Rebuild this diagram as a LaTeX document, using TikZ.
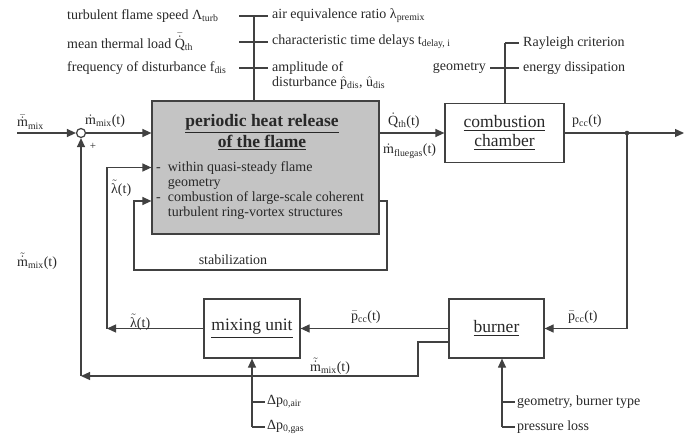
\documentclass[tikz,border=0pt]{standalone}
\usepackage{fontspec}
\setmainfont{Liberation Serif}
\usepackage{amsmath}
\usetikzlibrary{arrows.meta}
\definecolor{ln}{RGB}{65,65,65}
\definecolor{flamefill}{RGB}{196,196,196}
\definecolor{txt}{RGB}{40,40,40}
\newcommand{\mbarx}{$\bar{\dot{\text{m}}}$}
\newcommand{\mdotx}{$\dot{\text{m}}$}
\newcommand{\mtilx}{$\tilde{\dot{\text{m}}}$}
\newcommand{\lamtil}{$\tilde{\text{λ}}$}
\newcommand{\pbarx}{$\bar{\text{p}}$}
\begin{document}
\begin{tikzpicture}[x=1pt,y=-1pt,
  line/.style={draw=ln, line width=1.2pt},
  arr/.style={line, -{Triangle[length=9pt,width=8pt]}},
  block/.style={draw=ln, line width=1.2pt, rectangle, inner sep=0pt, text=txt,
    font=\fontsize{17.5}{19}\selectfont, align=center},
  lbl/.style={inner sep=0pt, text=txt, font=\fontsize{14}{15}\selectfont},
]
\useasboundingbox (0,0) rectangle (686,436);

% blocks
\node[block, fill=flamefill, minimum width=227pt, minimum height=133pt] (flame) at (265.5,167.5) {};
\node[block, draw=none, font=\fontsize{17.5}{19}\bfseries] (ftitle) at (262,132.5)
  {\underline{periodic heat release}\\\underline{of the flame}};
\node[lbl, anchor=west] (fitems) at (156,190.5)
  {\begin{tabular}{@{}l@{\hspace{7pt}}l@{}}
   -& within quasi-steady flame\\
    & geometry\\
   -& combustion of large-scale coherent\\
    & turbulent ring-vortex structures
   \end{tabular}};
\node[block, minimum width=119pt, minimum height=59pt] (cc) at (504.5,133)
  {\underline{combustion}\\\underline{chamber}};
\node[block, minimum width=96pt, minimum height=59pt] (mix) at (252,328.5)
  {\underline{mixing unit}};
\node[block, minimum width=95pt, minimum height=59pt] (burner) at (496.5,328.5)
  {\underline{burner}};
\node[circle, draw=ln, line width=1.2pt, fill=white, minimum size=9pt, inner sep=0pt] (sum) at (81,133) {};

% coordinates
\coordinate (in) at (17,133);
\coordinate (out) at (684,133);
\coordinate (split) at (627,133);
\coordinate (lamcorner) at (107,328.5);
\coordinate (stabA) at (387,201);
\coordinate (stabB) at (387,270);
\coordinate (stabC) at (134,270);
\coordinate (stabD) at (134,201);
\coordinate (bk1) at (418,342);
\coordinate (bk2) at (418,376);
\coordinate (bl) at (81,376);
\coordinate (mixin) at (252,427);
\coordinate (burnin) at (502,427);
\coordinate (ftop) at (254,16);
\coordinate (cctop) at (505,43);

% main path
\draw[arr] (in) -- (sum);
\draw[arr] (sum) -- (sum -| flame.west);
\draw[arr] (flame.east |- cc.west) -- (cc.west);
\draw[arr] (cc.east) -- (out);
\fill[ln] (split) circle (2.3pt);
\draw[arr] (split) |- (burner.east);
\draw[arr] (burner.west) -- (mix.east);
\draw[arr] (mix.west) -- (lamcorner);
\draw[arr] (lamcorner) |- (flame.west);
\draw[arr] (flame.east |- stabA) -- (stabA) -- (stabB) -- (stabC) -- (stabD) -- (flame.west |- stabD);
\draw[arr] (burner.west |- bk1) -- (bk1) -- (bk2) -- (bl);
\draw[arr] (bl) -- (sum.south);

% bottom inputs
\node[lbl, anchor=west] (dpair) at (267,402) {Δp\textsubscript{0,air}};
\node[lbl, anchor=west] (dpgas) at (267,427) {Δp\textsubscript{0,gas}};
\draw[arr] (mixin) -- (mix.south);
\draw[line] (dpair.west -| mix.south) -- ([xshift=-2pt]dpair.west);
\draw[line] (mixin) -- ([xshift=-2pt]dpgas.west);
\node[lbl, anchor=west] (geob) at (517,402) {geometry, burner type};
\node[lbl, anchor=west] (ploss) at (517,427) {pressure loss};
\draw[arr] (burnin) -- (burnin |- burner.south);
\draw[line] (geob.west -| burnin) -- ([xshift=-2pt]geob.west);
\draw[line] (burnin) -- ([xshift=-2pt]ploss.west);

% top parameters of flame
\node[lbl, anchor=west] (L1) at (67,16) {turbulent flame speed Λ\textsubscript{turb}};
\node[lbl, anchor=west] (L2) at (67,42) {mean thermal load \raisebox{0pt}{$\bar{\dot{\text{Q}}}$}\textsubscript{th}};
\node[lbl, anchor=west] (L3) at (67,68) {frequency of disturbance f\textsubscript{dis}};
\node[lbl, anchor=west] (R1) at (272,16) {air equivalence ratio λ\textsubscript{premix}};
\node[lbl, anchor=west] (R2) at (272,42) {characteristic time delays t\textsubscript{delay, i}};
\node[lbl, anchor=west, align=left] (R3) at (272,75.5) {amplitude of\\disturbance $\hat{\text{p}}$\textsubscript{dis}, $\hat{\text{u}}$\textsubscript{dis}};
\draw[line] (ftop) -- (ftop |- flame.north);
\draw[line] ([xshift=-15pt]ftop) -- ([xshift=14pt]ftop);
\draw[line] ([xshift=-15pt]ftop |- L2.west) -- ([xshift=14pt]ftop |- L2.west);
\draw[line] ([xshift=-15pt]ftop |- L3.west) -- ([xshift=14pt]ftop |- L3.west);

% top parameters of combustion chamber
\node[lbl, anchor=west] (ray) at (523,43) {Rayleigh criterion};
\node[lbl, anchor=west] (ened) at (523,68) {energy dissipation};
\node[lbl, anchor=east] (geoc) at (486,68) {geometry};
\draw[line] (cctop) -- (cctop |- cc.north);
\draw[line] (cctop) -- ([xshift=-4pt]ray.west);
\draw[line] ([xshift=4pt]geoc.east) -- ([xshift=-4pt]ened.west);

% signal labels
\node[lbl, anchor=west] (lmbar) at (17,122) {\mbarx\textsubscript{mix}};
\node[lbl, anchor=west] (lmdot) at (85,121) {\mdotx\textsubscript{mix}(t)};
\node[lbl, font=\fontsize{11}{12}\selectfont] (lplus) at (93,146) {+};
\node[lbl, anchor=west] (lqth) at (388,121) {$\dot{\text{Q}}$\textsubscript{th}(t)};
\node[lbl, anchor=west] (lflue) at (383,151) {\mdotx\textsubscript{fluegas}(t)};
\node[lbl, anchor=west] (lpcc) at (572,121) {p\textsubscript{cc}(t)};
\node[lbl, anchor=west] (llam1) at (111,188) {\lamtil(t)};
\node[lbl, anchor=west] (lmtil1) at (17,261) {\mtilx\textsubscript{mix}(t)};
\node[lbl] (lstab) at (233,260) {stabilization};
\node[lbl, anchor=west] (llam2) at (130,322) {\lamtil(t)};
\node[lbl, anchor=west] (lpbar1) at (351,317) {\pbarx\textsubscript{cc}(t)};
\node[lbl, anchor=west] (lpbar2) at (568,317) {\pbarx\textsubscript{cc}(t)};
\node[lbl, anchor=west] (lmtil2) at (310,366) {\mtilx\textsubscript{mix}(t)};
\end{tikzpicture}
\end{document}
